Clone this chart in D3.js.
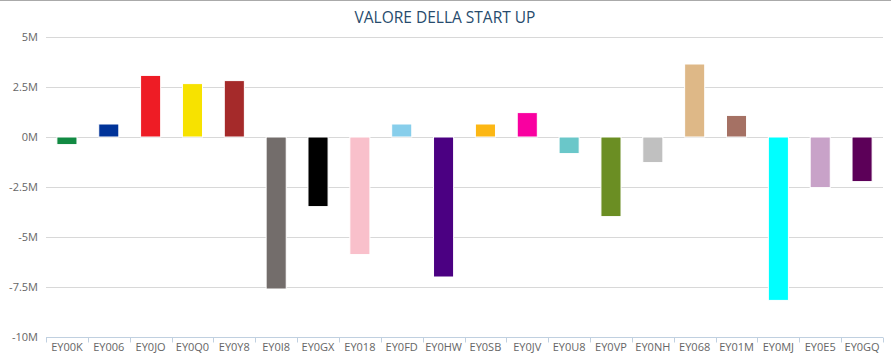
<!DOCTYPE html>
<html><head><meta charset="utf-8">
<script src="https://cdn.jsdelivr.net/npm/d3@7"></script>
<style>
html,body{margin:0;padding:0;background:#fff;}
svg{display:block;}
</style></head>
<body>
<script>
const categories = ["EY00K","EY006","EY0JO","EY0Q0","EY0Y8","EY0I8","EY0GX","EY018","EY0FD","EY0HW","EY0SB","EY0JV","EY0U8","EY0VP","EY0NH","EY068","EY01M","EY0MJ","EY0E5","EY0GQ"];
const values = [-0.38, 0.65, 3.08, 2.67, 2.82, -7.6, -3.48, -5.88, 0.65, -7.0, 0.65, 1.22, -0.83, -3.98, -1.28, 3.65, 1.08, -8.17, -2.53, -2.23];
const colors = ["#128a43","#003399","#ee1c25","#f7e200","#a52a2a","#736d6b","#000000","#f9c0cb","#87ceeb","#4b0082","#fcb714","#f900a0","#6ac7c9","#6b8e23","#c0c0c0","#deb887","#a57164","#00ffff","#c8a2c8","#5c0058"];
const yTicks = [5, 2.5, 0, -2.5, -5, -7.5, -10];
const yTickLabels = ["5M","2.5M","0M","-2.5M","-5M","-7.5M","-10M"];
const title = "VALORE DELLA START UP";

const W = 891, H = 356;
const m = {left: 46, right: 8, top: 37, bottom: 19};
const svg = d3.select("body").append("svg").attr("width", W).attr("height", H);

svg.append("line").attr("x1",0).attr("x2",W).attr("y1",0.5).attr("y2",0.5).attr("stroke","#aaaaaa");

const x = d3.scaleBand().domain(categories).range([m.left, W - m.right]).paddingInner(0.52).paddingOuter(0.26);
const y = d3.scaleLinear().domain([-10, 5]).range([H - m.bottom, m.top]);

svg.append("text").attr("x", 445).attr("y", 23).attr("text-anchor","middle")
  .attr("font-family","'Open Sans', sans-serif").attr("font-size",15.5).attr("fill","#274b6d").text(title);

// grid
svg.append("g").selectAll("line").data(yTicks.filter(d => d > -10)).join("line")
  .attr("x1", m.left).attr("x2", W - m.right)
  .attr("y1", d => Math.round(y(d)) + 0.5).attr("y2", d => Math.round(y(d)) + 0.5)
  .attr("stroke","#d8d8d8").attr("stroke-width",1);

// y labels
const yAxis = d3.axisLeft(y).tickValues(yTicks).tickFormat((d,i) => yTickLabels[i]).tickSize(0).tickPadding(8);
const gy = svg.append("g").attr("transform", `translate(${m.left},0)`).call(yAxis);
gy.select(".domain").remove();
gy.selectAll("text").attr("font-family","'Open Sans', sans-serif").attr("font-size",11).attr("fill","#666");

// bars
svg.append("g").selectAll("rect").data(values).join("rect")
  .attr("x", (d,i) => x(categories[i]))
  .attr("width", x.bandwidth())
  .attr("y", d => y(Math.max(0,d)))
  .attr("height", d => Math.abs(y(d) - y(0)))
  .attr("fill", (d,i) => colors[i])
  .attr("stroke","#ffffff").attr("stroke-width",1);

// x axis
const xOuter = d3.scaleBand().domain(categories).range([m.left, W - m.right]);
const gx = svg.append("g").attr("transform", `translate(0,${H - m.bottom + 0.5})`);
gx.append("line").attr("x1", m.left).attr("x2", W - m.right).attr("stroke","#c0d0e0");
gx.selectAll("line.tick").data(categories.concat(["_end"])).join("line").attr("class","tick")
  .attr("x1", (d,i) => Math.round(m.left + i * xOuter.step()) + 0.5)
  .attr("x2", (d,i) => Math.round(m.left + i * xOuter.step()) + 0.5)
  .attr("y1", 0).attr("y2", 5).attr("stroke","#c0d0e0");
gx.selectAll("text").data(categories).join("text")
  .attr("x", d => xOuter(d) + xOuter.bandwidth()/2).attr("y", 13)
  .attr("text-anchor","middle").attr("font-family","'Open Sans', sans-serif")
  .attr("font-size",11).attr("fill","#666").text(d => d);
</script>
</body></html>
